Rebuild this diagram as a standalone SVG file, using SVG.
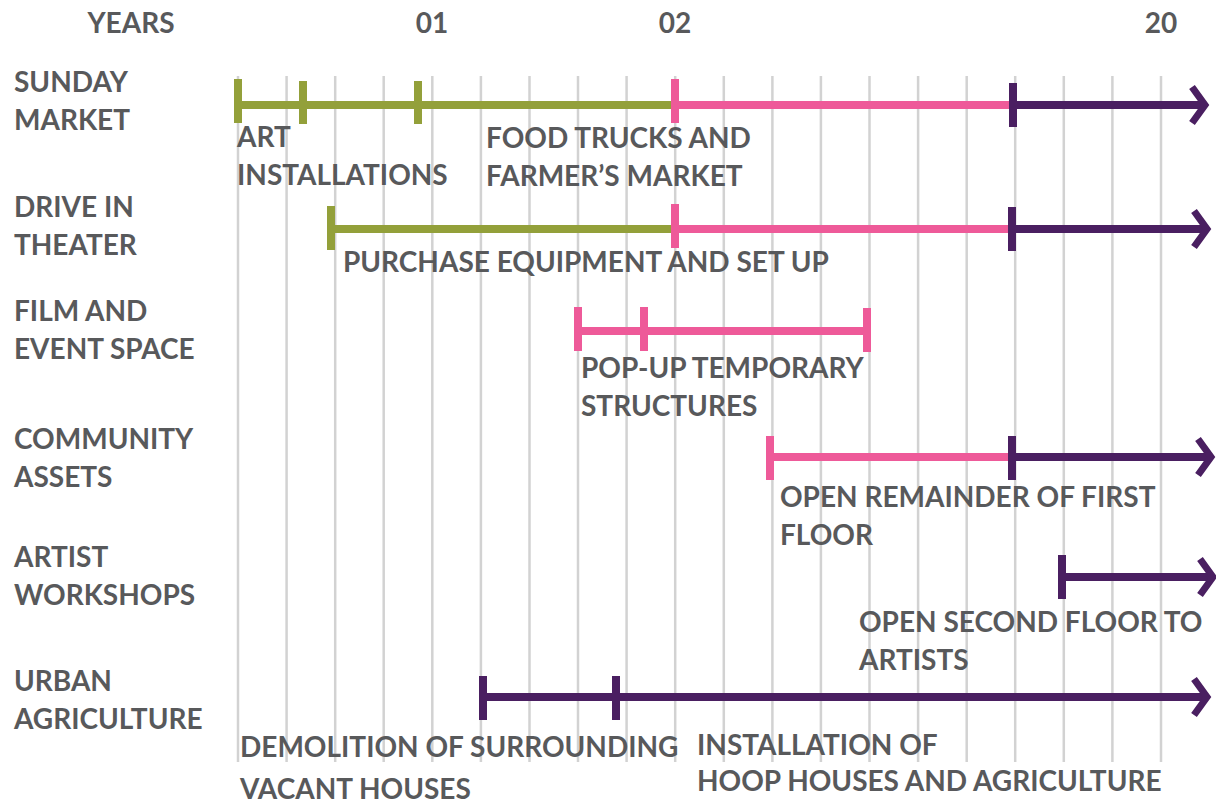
<svg xmlns="http://www.w3.org/2000/svg" width="1216" height="807" viewBox="0 0 1216 807">
<style>
text{font-family:Lato,"Liberation Sans",sans-serif;font-weight:700;font-size:28px;fill:#58595b}
.grid line{stroke:#d2d2d2;stroke-width:2.5}
.g{stroke:#93a03a;stroke-width:8;fill:none}
.p{stroke:#ee5a99;stroke-width:8;fill:none}
.u{stroke:#4a1f61;stroke-width:8;fill:none}
.arr{stroke:#4a1f61;stroke-width:7;fill:none;stroke-linejoin:miter}
.c{text-anchor:middle}
</style>
<rect width="1216" height="807" fill="#fff"/>
<g class="grid">
<line x1="238" y1="76" x2="238" y2="762"/><line x1="286.6" y1="76" x2="286.6" y2="762"/><line x1="335.2" y1="76" x2="335.2" y2="762"/><line x1="383.7" y1="76" x2="383.7" y2="762"/><line x1="432.3" y1="76" x2="432.3" y2="762"/><line x1="480.9" y1="76" x2="480.9" y2="762"/><line x1="529.5" y1="76" x2="529.5" y2="762"/><line x1="578" y1="76" x2="578" y2="762"/><line x1="626.6" y1="76" x2="626.6" y2="762"/><line x1="675.2" y1="76" x2="675.2" y2="762"/><line x1="723.8" y1="76" x2="723.8" y2="762"/><line x1="772.4" y1="76" x2="772.4" y2="762"/><line x1="820.9" y1="76" x2="820.9" y2="762"/><line x1="869.5" y1="76" x2="869.5" y2="762"/><line x1="918.1" y1="76" x2="918.1" y2="762"/><line x1="966.7" y1="76" x2="966.7" y2="762"/><line x1="1015.2" y1="76" x2="1015.2" y2="762"/><line x1="1063.8" y1="76" x2="1063.8" y2="762"/><line x1="1112.4" y1="76" x2="1112.4" y2="762"/><line x1="1161" y1="76" x2="1161" y2="762"/>
</g>
<g id="header">
<text x="131" y="33" class="c">YEARS</text>
<text x="432" y="33" class="c">01</text>
<text x="675" y="33" class="c">02</text>
<text x="1161" y="33" class="c">20</text>
</g>
<g id="row-labels">
<text x="14" y="92">SUNDAY</text><text x="14" y="130">MARKET</text>
<text x="14" y="217">DRIVE IN</text><text x="14" y="255">THEATER</text>
<text x="14" y="321">FILM AND</text><text x="14" y="359">EVENT SPACE</text>
<text x="14" y="449">COMMUNITY</text><text x="14" y="487">ASSETS</text>
<text x="14" y="567">ARTIST</text><text x="14" y="605">WORKSHOPS</text>
<text x="14" y="691">URBAN</text><text x="14" y="729">AGRICULTURE</text>
</g>
<g id="connectors">
<g id="sunday-market">
<line class="g" x1="238" y1="105" x2="675" y2="105"/>
<line class="g" x1="238" y1="79" x2="238" y2="123"/>
<line class="g" x1="303" y1="81" x2="303" y2="124"/>
<line class="g" x1="418" y1="81" x2="418" y2="124"/>
<line class="p" x1="675" y1="105" x2="1013" y2="105"/>
<line class="p" x1="675" y1="79" x2="675" y2="123"/>
<line class="u" x1="1013" y1="105" x2="1203" y2="105"/>
<line class="u" x1="1013" y1="83" x2="1013" y2="127"/>
<polyline class="arr" points="1192,87 1205,105 1192,123"/>
</g>
<g id="drive-in">
<line class="g" x1="331" y1="229" x2="675" y2="229"/>
<line class="g" x1="331" y1="206" x2="331" y2="250"/>
<line class="p" x1="675" y1="229" x2="1012" y2="229"/>
<line class="p" x1="675" y1="204" x2="675" y2="248"/>
<line class="u" x1="1012" y1="229" x2="1205" y2="229"/>
<line class="u" x1="1012" y1="207" x2="1012" y2="251"/>
<polyline class="arr" points="1194,211 1207,229 1194,247"/>
</g>
<g id="film-event">
<line class="p" x1="578" y1="331" x2="867" y2="331"/>
<line class="p" x1="578" y1="307" x2="578" y2="351"/>
<line class="p" x1="644" y1="307" x2="644" y2="351"/>
<line class="p" x1="867" y1="308" x2="867" y2="352"/>
</g>
<g id="community">
<line class="p" x1="770" y1="457" x2="1012" y2="457"/>
<line class="p" x1="770" y1="436" x2="770" y2="480"/>
<line class="u" x1="1012" y1="457" x2="1210" y2="457"/>
<line class="u" x1="1012" y1="436" x2="1012" y2="480"/>
<polyline class="arr" points="1198,439 1211,457 1198,475"/>
</g>
<g id="artist">
<line class="u" x1="1062" y1="577" x2="1212" y2="577"/>
<line class="u" x1="1062" y1="555" x2="1062" y2="599"/>
<polyline class="arr" points="1200,559 1213,577 1200,595"/>
</g>
<g id="urban">
<line class="u" x1="483" y1="697" x2="1205" y2="697"/>
<line class="u" x1="483" y1="676" x2="483" y2="720"/>
<line class="u" x1="616" y1="676" x2="616" y2="720"/>
<polyline class="arr" points="1194,679 1207,697 1194,715"/>
</g>
</g>
<g id="task-labels">
<text x="237" y="147">ART</text><text x="237" y="185">INSTALLATIONS</text>
<text x="486" y="148">FOOD TRUCKS AND</text><text x="486" y="186">FARMER’S MARKET</text>
<text x="343" y="272">PURCHASE EQUIPMENT AND SET UP</text>
<text x="581" y="378">POP-UP TEMPORARY</text><text x="581" y="416">STRUCTURES</text>
<text x="780" y="507">OPEN REMAINDER OF FIRST</text><text x="780" y="545">FLOOR</text>
<text x="859" y="632">OPEN SECOND FLOOR TO</text><text x="859" y="670">ARTISTS</text>
<text x="240" y="757">DEMOLITION OF SURROUNDING</text><text x="240" y="799">VACANT HOUSES</text>
<text x="697" y="755">INSTALLATION OF</text><text x="697" y="791">HOOP HOUSES AND AGRICULTURE</text>
</g>
</svg>
